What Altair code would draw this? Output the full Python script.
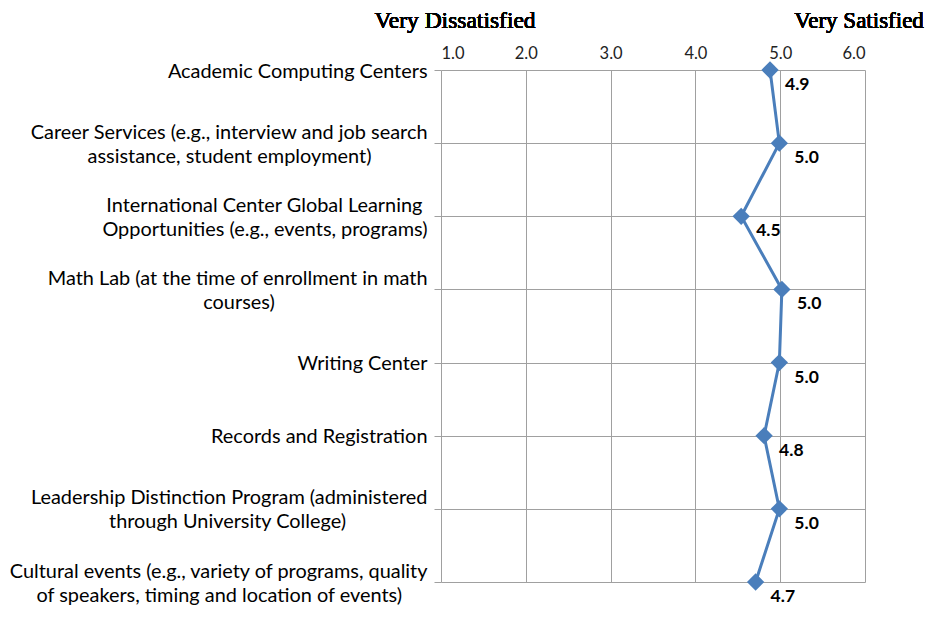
import altair as alt
import pandas as pd

# ---- data ----
line1 = [
    "Academic Computing Centers",
    "Career Services (e.g., interview and job search",
    "International Center Global Learning\u00a0",
    "Math Lab (at the time of enrollment in math",
    "Writing Center",
    "Records and Registration",
    "Leadership Distinction Program (administered",
    "Cultural events (e.g., variety of programs, quality",
]
line2 = [
    "",
    "assistance, student employment)",
    "Opportunities (e.g., events, programs)",
    "courses)",
    "",
    "",
    "through University College)",
    "of speakers, timing and location of events)",
]
scores = [4.88, 4.99, 4.54, 5.02, 4.99, 4.81, 4.99, 4.71]
x_ticks = [1, 2, 3, 4, 5, 6]
left_title = "Very Dissatisfied"
right_title = "Very Satisfied"

# ---- approximate glyph widths (em) used only to centre the wrapped label lines ----
W = {" ": 0.193, "\u00a0": 0.193, "i": 0.24, "j": 0.24, "l": 0.24, ".": 0.22, ",": 0.22,
     "f": 0.33, "t": 0.35, "r": 0.37, "(": 0.3, ")": 0.3, "s": 0.43, "c": 0.47, "z": 0.46,
     "m": 0.84, "w": 0.77, "a": 0.51, "e": 0.53, "g": 0.5, "k": 0.5, "v": 0.51, "x": 0.5,
     "y": 0.51, "I": 0.28, "M": 0.85}
NB = 0.25
ZW = "\u200b"  # zero-width guard so trailing no-break spaces survive trimming


def tw(s):
    return sum(W.get(c, 0.66 if c.isupper() else 0.56) for c in s)


def make_label(a, b):
    if not b:
        return a
    wa, wb = tw(a), tw(b)
    m = max(wa, wb)
    pa = "\u00a0" * int(round((m - wa) / 2 / NB))
    pb = "\u00a0" * int(round((m - wb) / 2 / NB))
    return a + pa + ZW + "|" + b + pb + ZW


labels = [make_label(a, b) for a, b in zip(line1, line2)]
df = pd.DataFrame({"label": labels, "score": scores, "idx": list(range(len(scores)))})

GRID = "#a0a0a0"
BLUE = "#4a7ebb"

base = alt.Chart(df).encode(
    y=alt.Y(
        "label:N",
        sort=labels,
        scale=alt.Scale(padding=0),
        axis=alt.Axis(
            title=None,
            labelExpr="split(datum.label, '|')",
            labelAlign="right",
            labelBaseline="middle",
            labelOffset=alt.condition("indexof(datum.value, '|') >= 0", alt.value(-11), alt.value(1)),
            labelPadding=7,
            tickSize=7,
            tickColor=GRID,
            domain=False,
            grid=True,
            gridColor=GRID,
            labelFont="Lato",
            labelFontSize=19.9,
            labelColor="black",
            labelLineHeight=24,
            labelLimit=1000,
        ),
    ),
    x=alt.X(
        "score:Q",
        scale=alt.Scale(domain=[1, 6], nice=False, zero=False),
        axis=alt.Axis(
            orient="top",
            title=None,
            values=x_ticks,
            format=".1f",
            ticks=False,
            domain=False,
            grid=True,
            gridColor=GRID,
            labelPadding=9,
            labelFont="Lato",
            labelFontSize=16.5,
            labelColor="#222222",
        ),
    ),
)

line = base.mark_line(color=BLUE, strokeWidth=3).encode(order="idx:Q")
pts = base.mark_point(shape="diamond", filled=True, size=300, color=BLUE, opacity=1)
vals = base.mark_text(
    align="left", baseline="middle", dx=15, dy=15,
    font="Lato", fontWeight="bold", fontSize=17.5, color="black",
).encode(text=alt.Text("score:Q", format=".1f"))

ann_left = alt.Chart(df).mark_text(
    font="Liberation Serif", fontSize=23.5, fontWeight="normal", color="black",
    align="center", baseline="alphabetic", dx=14,
).encode(x=alt.datum(1.0), y=alt.value(-42), text=alt.value(left_title))

ann_right = alt.Chart(df).mark_text(
    font="Liberation Serif", fontSize=23, fontWeight="normal", color="black",
    align="center", baseline="alphabetic", dx=-6,
).encode(x=alt.datum(6.0), y=alt.value(-42), text=alt.value(right_title))

chart = (
    alt.layer(line, pts, vals, ann_left, ann_right)
    .properties(
        width=424,
        height=512,
        autosize=alt.AutoSizeParams(type="none"),
        padding={"left": 433, "top": 62, "right": 60, "bottom": 27},
    )
    .configure_view(stroke=None)
)

chart.save("out.html", embed_options={"renderer": "svg", "actions": False})
